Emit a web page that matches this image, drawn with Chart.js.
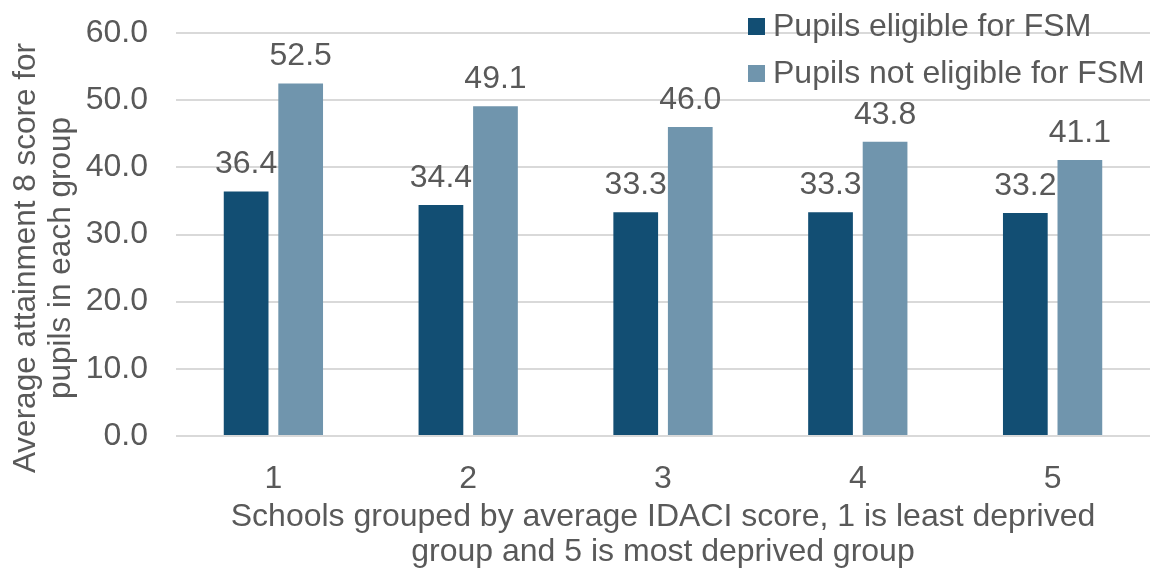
<!DOCTYPE html>
<html>
<head>
<meta charset="utf-8">
<script src="https://cdn.jsdelivr.net/npm/chart.js@4"></script>
<style>
  html, body { margin: 0; padding: 0; background: #fff; }
  #wrap { width: 1150px; height: 574px; }
</style>
</head>
<body>
<div id="wrap"><canvas id="chart" width="1150" height="574"></canvas></div>
<script>
const groups = ['1', '2', '3', '4', '5'];
const fsmEligible = [36.4, 34.4, 33.3, 33.3, 33.2];
const fsmNotEligible = [52.5, 49.1, 46.0, 43.8, 41.1];
const seriesNames = ['Pupils eligible for FSM', 'Pupils not eligible for FSM'];
const yTitle = ['Average attainment 8 score for', 'pupils in each group'];
const xTitle = ['Schools grouped by average IDACI score, 1 is least deprived', 'group and 5 is most deprived group'];

const gray = '#595959';
const font = 'Liberation Sans, Arial, sans-serif';

// value labels above each bar
const valueLabels = {
  id: 'valueLabels',
  afterDatasetsDraw(chart) {
    const ctx = chart.ctx;
    ctx.save();
    ctx.font = '32px ' + font;
    ctx.fillStyle = gray;
    ctx.textAlign = 'center';
    ctx.textBaseline = 'bottom';
    chart.data.datasets.forEach((ds, i) => {
      chart.getDatasetMeta(i).data.forEach((bar, j) => {
        ctx.fillText(ds.data[j].toFixed(1), bar.x, bar.y - 11);
      });
    });
    ctx.restore();
  }
};

// legend over the top right corner + rotated y title
const extras = {
  id: 'extras',
  afterDraw(chart) {
    const ctx = chart.ctx;
    ctx.save();
    ctx.font = '32px ' + font;
    ctx.textBaseline = 'middle';
    chart.data.datasets.forEach((ds, i) => {
      const y = 26 + i * 47;
      ctx.fillStyle = ds.backgroundColor;
      ctx.fillRect(748, y - 8, 17, 17);
      ctx.fillStyle = gray;
      ctx.fillText(ds.label, 773, y + 1);
    });
    ctx.restore();

    ctx.save();
    ctx.font = '31.5px ' + font;
    ctx.fillStyle = gray;
    ctx.textAlign = 'center';
    ctx.textBaseline = 'alphabetic';
    yTitle.forEach((line, i) => {
      ctx.save();
      ctx.translate(35 + i * 35, 258);
      ctx.rotate(-Math.PI / 2);
      ctx.fillText(line, 0, 0);
      ctx.restore();
    });
    ctx.restore();
  }
};

new Chart(document.getElementById('chart'), {
  type: 'bar',
  data: {
    labels: groups,
    datasets: [
      { label: seriesNames[0], data: fsmEligible, backgroundColor: '#124e73' },
      { label: seriesNames[1], data: fsmNotEligible, backgroundColor: '#7095ad' }
    ]
  },
  options: {
    responsive: false,
    animation: false,
    layout: { padding: { top: 33, right: 0, left: 0, bottom: 0 } },
    datasets: { bar: { categoryPercentage: 0.56, barPercentage: 0.82 } },
    plugins: { legend: { display: false }, tooltip: { enabled: false } },
    scales: {
      x: {
        grid: { display: false },
        border: { display: false },
        ticks: { color: gray, font: { size: 32, family: font }, padding: 16 },
        title: {
          display: true,
          text: xTitle,
          color: gray,
          font: { size: 32, family: font, lineHeight: 1.1 },
          padding: { top: 12 }
        },
        afterFit(axis) { axis.height = 138; }
      },
      y: {
        min: 0,
        max: 60,
        ticks: {
          stepSize: 10,
          color: gray,
          font: { size: 32, family: font },
          padding: 28,
          callback: v => v.toFixed(1)
        },
        grid: { color: '#d9d9d9', lineWidth: 2, drawTicks: false },
        border: { display: false },
        afterFit(axis) {
          axis.width = 176;
          axis.paddingTop = 0;
          axis.paddingBottom = 0;
        }
      }
    }
  },
  plugins: [valueLabels, extras]
});
</script>
</body>
</html>
